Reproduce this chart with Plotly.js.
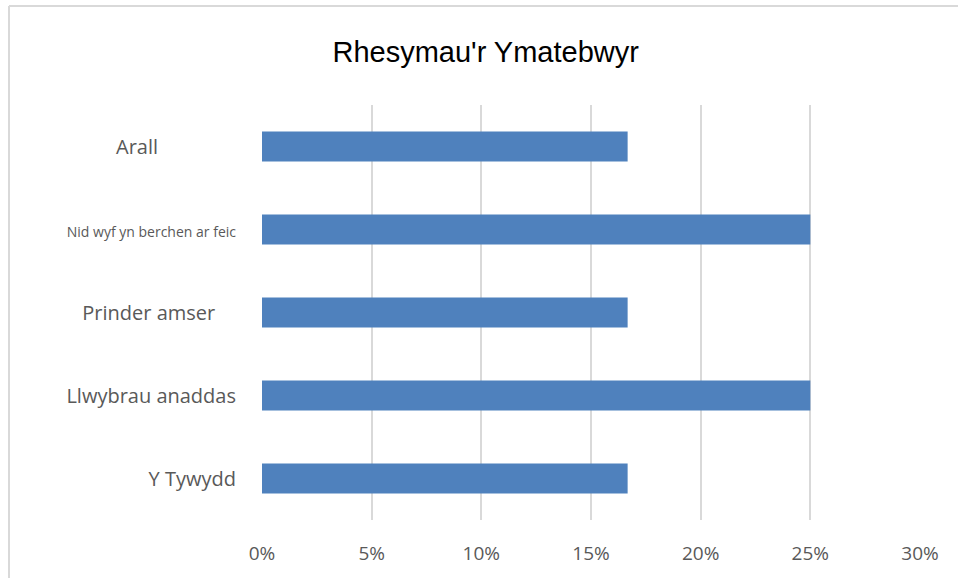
<!DOCTYPE html>
<html>
<head>
<meta charset="utf-8">
<script src="https://cdn.plot.ly/plotly-3.0.1.min.js"></script>
<style>html,body{margin:0;padding:0;background:#fff;}#chart{width:958px;height:578px;}</style>
</head>
<body>
<div id="chart"></div>
<script>
const categories = ["Y Tywydd", "Llwybrau anaddas", "Prinder amser", "Nid wyf yn berchen ar feic", "Arall"];
const values = [0.1667, 0.25, 0.1667, 0.25, 0.1667];
const tickLabels = [
  "Y Tywydd",
  "Llwybrau anaddas",
  "Prinder amser\u00A0\u00A0\u00A0\u00A0",
  "<span style=\"font-size:14px\">Nid wyf yn berchen ar feic</span>",
  "Arall\u00A0\u00A0\u00A0\u00A0\u00A0\u00A0\u00A0\u00A0\u00A0\u00A0\u00A0\u00A0\u00A0\u00A0\u00A0"
];
const xTickVals = [0, 0.05, 0.10, 0.15, 0.20, 0.25, 0.30];
const xTickText = ["0%", "5%", "10%", "15%", "20%", "25%", "30%"];

const trace = {
  type: "bar",
  orientation: "h",
  y: categories,
  x: values,
  marker: {color: "#4f81bd"},
  hoverinfo: "x+y"
};

const layout = {
  width: 958,
  height: 578,
  paper_bgcolor: "#ffffff",
  plot_bgcolor: "#ffffff",
  margin: {l: 262, r: 38, t: 105, b: 58},
  bargap: 0.64,
  showlegend: false,
  title: {
    text: "Rhesymau'r Ymatebwyr",
    font: {family: "Liberation Sans, Arial, sans-serif", size: 29, color: "#000000"},
    x: 0.507, xanchor: "center", xref: "container",
    y: 0.91, yanchor: "middle", yref: "container"
  },
  xaxis: {
    range: [0, 0.30],
    tickvals: xTickVals,
    ticktext: xTickText,
    showgrid: true,
    gridcolor: "#d9d9d9",
    gridwidth: 2,
    zeroline: false,
    showline: false,
    ticks: "",
    ticklabelstandoff: 20,
    tickfont: {family: "Open Sans, sans-serif", size: 19, color: "#595959"},
    fixedrange: true
  },
  yaxis: {
    type: "category",
    categoryorder: "array",
    categoryarray: categories,
    tickvals: categories,
    ticktext: tickLabels,
    showgrid: false,
    zeroline: false,
    showline: false,
    ticks: "",
    ticklabelstandoff: 25,
    tickfont: {family: "Open Sans, sans-serif", size: 20, color: "#595959"},
    fixedrange: true
  },
  shapes: [
    {type: "line", xref: "paper", yref: "paper", x0: -0.3845, x1: 1.06, y0: 1.2386, y1: 1.2386, line: {color: "#d9d9d9", width: 2}},
    {type: "line", xref: "paper", yref: "paper", x0: -0.3845, x1: -0.3845, y0: 1.2386, y1: -0.2, line: {color: "#d9d9d9", width: 2}}
  ]
};

Plotly.newPlot("chart", [trace], layout, {displayModeBar: false, staticPlot: true});
</script>
</body>
</html>
